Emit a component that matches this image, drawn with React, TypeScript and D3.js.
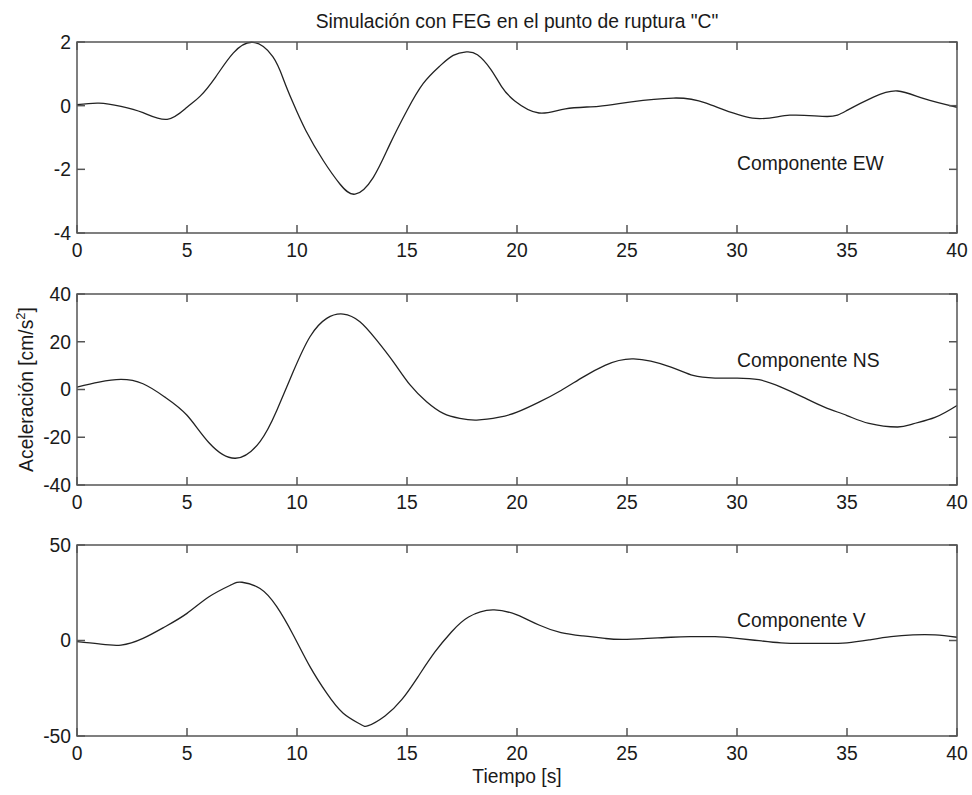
import React from "react";
import * as d3 from "d3";

const TITLE = 'Simulación con FEG en el punto de ruptura "C"';
const XTICKS = [0, 5, 10, 15, 20, 25, 30, 35, 40];

const ewT = [0, 1, 2, 3, 4.1, 5, 5.6, 6.3, 7.1, 8.0, 8.9, 9.4, 9.8, 10.4, 11.2, 11.95, 12.64, 13.47, 14.23, 15.0, 15.74, 16.5, 17.1, 17.7, 18.2, 18.8, 19.3, 19.9, 21.0, 22.2, 23.7, 25.2, 27.1, 28.6, 30.7, 32.4, 34.1, 35, 36.2, 37.3, 38.5, 40];
const ewV = [0.03, 0.08, -0.02, -0.22, -0.43, -0.05, 0.3, 0.9, 1.65, 1.99, 1.54, 0.8, 0.12, -0.78, -1.73, -2.46, -2.78, -2.25, -1.2, -0.15, 0.7, 1.25, 1.58, 1.69, 1.6, 1.15, 0.6, 0.15, -0.23, -0.1, -0.02, 0.12, 0.24, 0.08, -0.39, -0.3, -0.34, -0.15, 0.27, 0.46, 0.22, -0.05];

const nsT = [0, 1, 2, 3, 4, 5, 6, 7.2, 8.32, 9.08, 9.83, 10.59, 11.35, 12.1, 12.86, 13.62, 14.38, 15.14, 15.89, 16.65, 17.4, 18.17, 19.2, 20, 21, 22, 23, 24, 25.3, 27, 28, 29, 30, 31, 32, 33, 34, 35, 36, 37.3, 38, 39, 40];
const nsV = [1, 3.1, 4.2, 2.4, -3.2, -10.8, -22.3, -28.8, -21.8, -8.8, 7.5, 22.1, 29.8, 31.6, 28.4, 20.7, 11.6, 1.9, -5.1, -10, -12.1, -12.8, -11.6, -9.5, -5.3, -0.4, 5.2, 10.1, 12.8, 9.4, 5.9, 4.8, 4.8, 4.1, 1, -3.2, -7.5, -10.9, -14.2, -15.7, -14.4, -11.7, -6.7];

const vT = [0, 1, 2, 3, 4, 5, 6, 7, 7.5, 8.32, 9.08, 9.83, 10.59, 11.35, 12.1, 12.86, 13.24, 14, 14.76, 15.5, 16.27, 17.03, 17.8, 18.9, 20, 21, 22, 23, 24, 25, 27, 28, 29, 30, 31, 32, 33, 34, 35, 36, 37, 38, 39, 40];
const vV = [-0.6, -1.8, -2.4, 1.1, 7.2, 14.2, 22.9, 29.1, 30.5, 27.2, 17.7, 2.9, -13.7, -27.6, -38.1, -43.7, -44.6, -39.5, -31, -19, -6, 4.6, 12.3, 16, 13.4, 8.1, 4.1, 2.4, 1.1, 0.6, 1.7, 2, 2, 1.1, -0.1, -1.2, -1.5, -1.5, -1.2, 0.3, 2, 2.9, 2.9, 1.7];

const PANELS = [
  { t: ewT, v: ewV, domain: [-4, 2], ticks: [-4, -2, 0, 2], label: "Componente EW", top: 42, labelY: 170 },
  { t: nsT, v: nsV, domain: [-40, 40], ticks: [-40, -20, 0, 20, 40], label: "Componente NS", top: 294, labelY: 367 },
  { t: vT, v: vV, domain: [-50, 50], ticks: [-50, 0, 50], label: "Componente V", top: 545, labelY: 627 },
];

const LEFT = 77;
const RIGHT = 957;
const PH = 191;
const FONT = "'Liberation Sans', Arial, sans-serif";
const FS = 19.3;
const AXC = "#555";
const TXT = "#1a1a1a";

export default function App() {
  const x = d3.scaleLinear().domain([0, 40]).range([LEFT, RIGHT]);
  return (
    <svg width={972} height={795} style={{ position: "absolute", left: 0, top: 0, background: "#fff" }} fontFamily={FONT}>
      <rect x={0} y={0} width={972} height={795} fill="#fff" />
      <text x={(LEFT + RIGHT) / 2} y={28} textAnchor="middle" fontSize={FS} fill={TXT}>{TITLE}</text>
      {PANELS.map((p, i) => {
        const y = d3.scaleLinear().domain(p.domain).range([p.top + PH, p.top]);
        const pts = p.t.map((t, k) => [t, p.v[k]] as [number, number]);
        const line = d3.line<[number, number]>().x(d => x(d[0])).y(d => y(d[1])).curve(d3.curveNatural);
        const bottom = p.top + PH;
        return (
          <g key={i}>
            <path d={line(pts) || ""} fill="none" stroke="#222" strokeWidth={1.3} />
            <rect x={LEFT} y={p.top} width={RIGHT - LEFT} height={PH} fill="none" stroke={AXC} strokeWidth={1.5} />
            {XTICKS.map(t => (
              <g key={"x" + t}>
                <line x1={x(t)} x2={x(t)} y1={bottom} y2={bottom - 8} stroke={AXC} strokeWidth={1.5} />
                <line x1={x(t)} x2={x(t)} y1={p.top} y2={p.top + 8} stroke={AXC} strokeWidth={1.5} />
                <text x={x(t)} y={bottom + 24} textAnchor="middle" fontSize={FS} fill={TXT}>{t}</text>
              </g>
            ))}
            {p.ticks.map(v => (
              <g key={"y" + v}>
                <line x1={LEFT} x2={LEFT + 8} y1={y(v)} y2={y(v)} stroke={AXC} strokeWidth={1.5} />
                <line x1={RIGHT} x2={RIGHT - 8} y1={y(v)} y2={y(v)} stroke={AXC} strokeWidth={1.5} />
                <text x={LEFT - 6} y={y(v)} dy="0.36em" textAnchor="end" fontSize={FS} fill={TXT}>{v}</text>
              </g>
            ))}
            <text x={737} y={p.labelY} fontSize={FS} fill={TXT}>{p.label}</text>
          </g>
        );
      })}
      <text transform={`translate(33, ${294 + PH / 2}) rotate(-90)`} textAnchor="middle" fontSize={FS} fill={TXT}>
        Aceleración [cm/s<tspan dy="-8" fontSize={13}>2</tspan><tspan dy="8">]</tspan>
      </text>
      <text x={(LEFT + RIGHT) / 2} y={783} textAnchor="middle" fontSize={FS} fill={TXT}>Tiempo [s]</text>
    </svg>
  );
}
